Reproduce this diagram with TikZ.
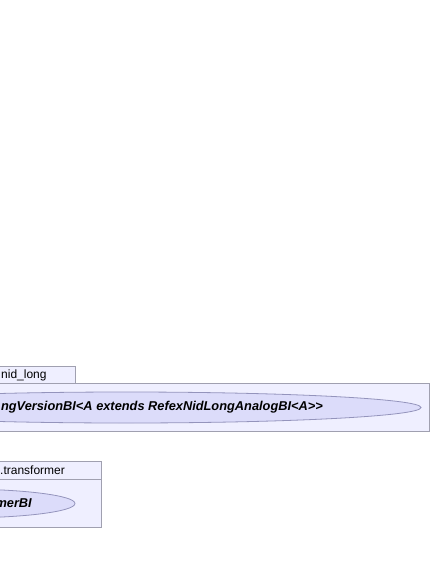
\documentclass[tikz,border=0pt]{standalone}
\usepackage{fontspec}
\setmainfont{Liberation Sans}
\usetikzlibrary{positioning}
\definecolor{pkgfill}{HTML}{EFEFFF}
\definecolor{pkgline}{HTML}{A0A0B0}
\definecolor{ucfill}{HTML}{DCDCFA}
\definecolor{ucline}{HTML}{9494BC}

\begin{document}
\begin{tikzpicture}[x=1pt, y=-1pt,
  pkg/.style={draw=pkgline, fill=pkgfill, line width=0.8pt},
  uc/.style={draw=ucline, fill=ucfill, line width=0.8pt},
  pkgname/.style={inner sep=0pt, font=\fontsize{12}{14}\selectfont},
  ucname/.style={inner sep=0pt, font=\fontsize{12.8}{15}\selectfont\bfseries\itshape}]
\useasboundingbox (0,0) rectangle (432,573);
\clip (0,0) rectangle (432,573);
% package nid_long
\draw[pkg] (-200,366) rectangle (75,383);
\draw[pkg] (-200,383) rectangle (429,431);
\node[pkgname, anchor=west] (nidlong) at (1,375) {nid\_long};
\draw[uc] (126,407.5) ellipse (295 and 15.5);
\node[ucname, anchor=east] (versionbi) at (323,407.5) {ngVersionBI<A extends RefexNidLongAnalogBI<A>{}>};
% package transformer
\draw[pkg] (-200,461) rectangle (101,479);
\draw[pkg] (-200,479) rectangle (101,527);
\node[pkgname, anchor=west] (transformer) at (0,470) {.transformer};
\draw[uc] (-40,503.5) ellipse (115 and 14.5);
\node[ucname, anchor=east] (transformerbi) at (32,503.5) {merBI};
\end{tikzpicture}
\end{document}
